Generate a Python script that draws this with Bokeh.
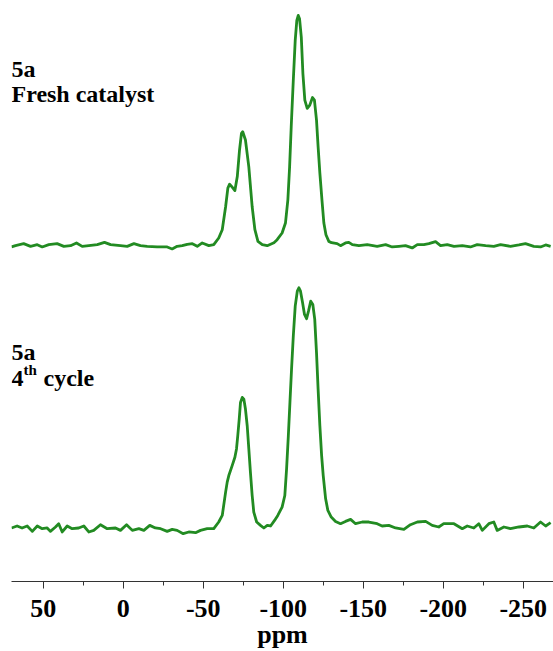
from bokeh.plotting import figure
from bokeh.models import Range1d, FixedTicker
from bokeh.core.properties import value
from bokeh.embed import file_html
from bokeh.resources import INLINE

# ---- data (chemical shift in ppm, intensity in arbitrary units) ----
fresh_ppm = [69.8, 67.3, 62.2, 57.9, 53.7, 50.6, 46.5, 41.3, 37.1, 32.9,
             29.2, 25.6, 21.5, 16.2, 11.7, 7.9, 1.7, -2.5, -6.7, -10.8,
             -15.0, -21.2, -27.5, -30.6, -33.7, -36.9, -40.0, -43.2, -46.3, -49.4,
             -53.5, -56.6, -59.7, -61.9, -64.0, -65.4, -66.5, -68.1, -69.8, -71.3,
             -72.7, -73.9, -74.7, -76.4, -78.5, -80.6, -82.3, -84.2, -86.9, -90.0,
             -92.1, -94.2, -96.2, -99.3, -101.4, -102.9, -104.0, -105.0, -106.3, -107.5,
             -108.5, -109.4, -110.2, -111.3, -112.3, -113.5, -115.0, -116.6, -118.3, -119.5,
             -120.8, -121.8, -122.9, -124.2, -125.4, -126.7, -128.5, -130.2, -133.7, -135.8,
             -138.9, -141.0, -143.2, -147.3, -152.5, -158.7, -164.0, -168.1, -172.3, -176.4,
             -180.6, -183.8, -187.9, -191.0, -195.2, -198.3, -202.5, -206.7, -211.9, -217.0,
             -221.2, -226.5, -231.6, -235.8, -242.0, -247.3, -251.4, -256.6, -260.8, -264.0,
             -267.1]
fresh_int = [-2.3, -1, 1, -1.7, 0, -2.3, 0, 1, -1.7, -1,
             1.7, -1.7, -1, 0, 2.3, 0, -1, -1.7, 1, -1,
             -1.7, -2.3, -2.3, -4.3, -1.7, -1, 0.3, 1, -1.7, 1.7,
             -1, 0, 6.7, 15, 38, 56.7, 60.7, 57.7, 54.3, 68.3,
             95, 111.7, 113.3, 105, 78, 38, 15, 3.3, 0, -1,
             0.5, 2, 5, 11.7, 21.7, 45, 78.3, 118.3, 165, 205,
             225, 230, 226.7, 208.3, 171.7, 145, 136.7, 140, 147.7, 145,
             125, 98.3, 71.7, 45, 21.7, 10, 3.3, 2, 1, -1,
             1.7, 2.3, 0, -1, 0, -1.7, 0, -2.3, -1.7, -1,
             -3.3, 0, 0, 1, 3, -1, 0, -1.7, -1, -2.3,
             0, -1, -1.7, 0, -1.7, -0.3, 1, -1.7, -2.3, -0.3,
             -1.7]

cycle4_ppm = [69.8, 66.3, 63.2, 60.0, 56.8, 53.7, 50.6, 47.5, 45.5, 42.3,
              40.3, 38.1, 35.0, 31.9, 27.8, 24.6, 21.5, 18.4, 14.2, 10.0,
              4.8, 1.7, -2.1, -5.7, -9.8, -12.9, -16.6, -20.1, -23.4, -27.5,
              -30.6, -33.7, -37.5, -41.0, -45.2, -48.3, -52.5, -56.6, -59.7, -61.9,
              -64.0, -65.0, -66.0, -68.1, -69.8, -70.8, -71.6, -72.5, -73.3, -74.4,
              -75.4, -76.4, -77.5, -78.5, -79.5, -80.6, -81.6, -83.4, -85.8, -87.9,
              -90.0, -92.1, -94.6, -96.6, -99.3, -101.0, -102.1, -103.2, -104.2, -105.2,
              -106.3, -107.5, -108.8, -109.8, -110.8, -112.1, -113.3, -114.6, -115.8, -117.2,
              -118.5, -119.7, -120.8, -121.8, -122.9, -124.0, -125.0, -126.5, -127.9, -130.0,
              -132.7, -135.8, -138.9, -142.1, -145.2, -149.4, -153.5, -158.7, -161.8, -166.0,
              -170.2, -175.4, -179.5, -183.8, -189.0, -193.1, -197.2, -200.3, -206.7, -211.9,
              -215.0, -219.1, -222.2, -224.4, -228.5, -231.6, -233.7, -237.9, -242.0, -247.3,
              -252.5, -256.6, -260.8, -264.0, -267.1]
cycle4_int = [-2.3, -0.3, -2.3, -0.3, -5.7, -0.3, -3, -2.3, -5.7, -1.3,
              2, -6.3, -0.3, -3, -2.3, -0.3, -6.3, -4.7, 1, -3,
              -2.3, -4.7, 1, -4.7, -3, -4.7, 0.3, -2.3, -3, -5.7,
              -3.7, -4.7, -8, -6.3, -7, -4.7, -3, -3, 3.7, 10.3,
              33.7, 43.7, 50.3, 60.3, 68.7, 77, 90.3, 107, 123.7, 128.7,
              127, 117, 100.3, 77, 53.7, 30.3, 13.7, 3.7, 0.3, -2.3,
              0.3, -0.3, 5.3, 10.3, 18.7, 30.3, 57, 90.3, 123.7, 157,
              190.3, 220.3, 235.3, 238.7, 235.3, 223.7, 212, 207.7, 215.3, 225.3,
              222, 207, 173.7, 137, 100.3, 70.3, 50.3, 27, 15.3, 8.7,
              4.3, 2, 4.3, 6.3, 2, 3.7, 3.7, 2, -0.3, 0.3,
              -2.3, -3.7, 1, 3.7, 4.3, 0.3, -1.3, 2, 2, -3,
              -0.3, -2.3, 2, -4.7, 2, 3.7, -4.7, -1.3, -3, -1.3,
              -0.3, -2.3, 3.7, -0.3, 3]

tick_values = [50, 0, -50, -100, -150, -200, -250]
tick_labels = ["50", "0", "-50", "-100", "-150", "-200", "-250"]
minor_tick_values = [75, 25, -25, -75, -125, -175, -225, -275]
axis_title = "ppm"

# ---- layout / style ----
TOP_OFFSET = 282          # vertical stacking offset of the fresh spectrum
X_START, X_END = 69.8, -268.9
Y_START, Y_END = -56, 527
GREEN = "#228B22"
FONT = "Liberation Serif"

p = figure(width=553, height=651, output_backend="svg", toolbar_location=None,
           x_range=Range1d(X_START, X_END), y_range=Range1d(Y_START, Y_END),
           y_axis_location=None, min_border_left=11, min_border_right=0,
           min_border_top=0, min_border_bottom=68)
p.outline_line_color = None
p.grid.visible = False
p.background_fill_color = "white"
p.border_fill_color = "white"

p.line(fresh_ppm, [v + TOP_OFFSET for v in fresh_int], line_color=GREEN,
       line_width=2.8, line_join="round")
p.line(cycle4_ppm, cycle4_int, line_color=GREEN, line_width=2.8, line_join="round")

ax = p.xaxis[0]
ax.ticker = FixedTicker(ticks=tick_values, minor_ticks=minor_tick_values)
ax.major_label_overrides = {v: s for v, s in zip(tick_values, tick_labels)}
ax.axis_line_color = "#333333"
ax.major_tick_line_color = "#333333"
ax.minor_tick_line_color = "#333333"
ax.major_tick_in = 0
ax.major_tick_out = 7
ax.minor_tick_in = 0
ax.minor_tick_out = 4
ax.major_label_text_font = FONT
ax.major_label_text_font_style = "bold"
ax.major_label_text_font_size = "26px"
ax.major_label_text_color = "black"
ax.major_label_standoff = 11
ax.axis_label = axis_title
ax.axis_label_text_font = FONT
ax.axis_label_text_font_style = "bold"
ax.axis_label_text_font_size = "26px"
ax.axis_label_text_color = "black"
ax.axis_label_standoff = 0

# ---- sample annotations (text glyphs) ----
label_texts = ["5a", "Fresh catalyst", "5a", "4", "cycle"]
label_y = [458, 433, 174, 148, 148]
label_dx = [0, 0, 0, 0, 32]
p.text(x=[X_START] * len(label_texts), y=label_y, text=label_texts, x_offset=label_dx,
       text_font=value(FONT), text_font_style="bold", text_font_size="24px",
       text_color="black", text_baseline="alphabetic", text_align="left")
p.text(x=[X_START], y=[156], text=["th"], x_offset=[12],
       text_font=value(FONT), text_font_style="bold", text_font_size="15px",
       text_color="black", text_baseline="alphabetic", text_align="left")

open("out.html", "w").write(file_html(p, INLINE))
